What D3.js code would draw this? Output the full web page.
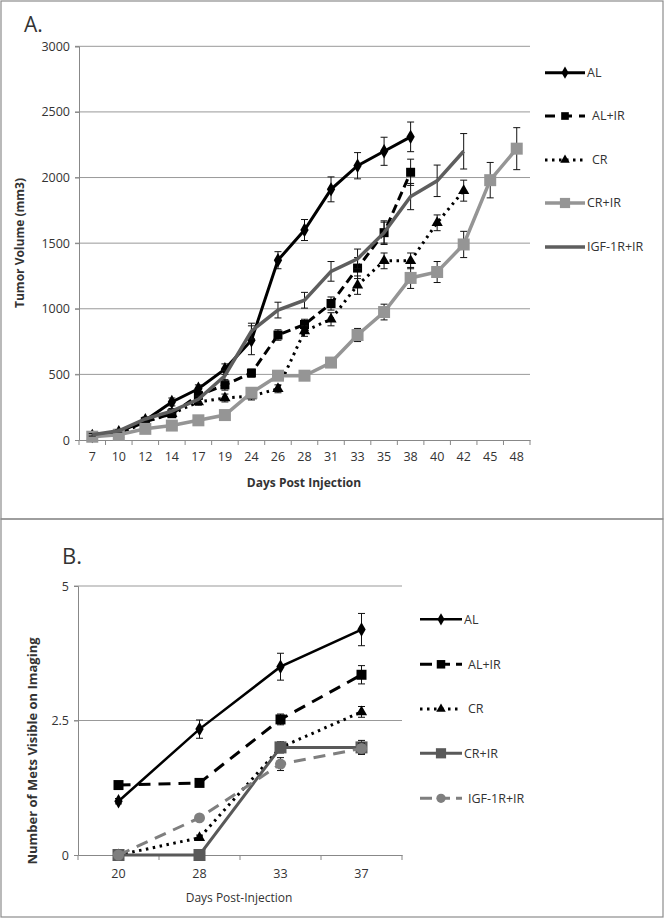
<!DOCTYPE html>
<html><head><meta charset="utf-8">
<script src="https://cdn.jsdelivr.net/npm/d3@7"></script>
<style>
html,body{margin:0;padding:0;background:#fff;}
svg text{font-family:"Open Sans","Liberation Sans",sans-serif;fill:#333;}
</style></head>
<body><svg id="c" width="665" height="919"></svg>
<script>
// ---------- Panel A data ----------
const daysA = [7,10,12,14,17,19,24,26,28,31,33,35,38,40,42,45,48];
const yTicksA = [0,500,1000,1500,2000,2500,3000];
const AL      = [30,60,150,290,390,540,760,1370,1600,1910,2090,2200,2310];
const AL_err  = [10,10,20,30,30,40,110,65,80,95,100,107,113];
const ALIR    = [30,50,140,200,340,420,510,800,880,1040,1310,1580,2040];
const ALIR_err= [10,10,20,25,30,40,30,40,40,50,80,90,100];
const CR      = [30,40,140,200,290,320,335,390,830,920,1180,1365,1365,1655,1900];
const CR_err  = [10,10,15,20,25,30,30,30,40,50,70,60,60,60,80];
const CRIR    = [25,40,85,110,150,190,360,490,490,590,800,975,1235,1280,1490,1980,2220];
const CRIR_err= [5,10,10,15,20,20,30,30,30,30,50,60,80,80,100,135,160];
const IGF     = [40,70,160,220,310,490,830,990,1065,1285,1380,1580,1855,1975,2200];
const IGF_err = [10,10,15,20,25,40,60,60,60,75,75,80,100,120,135];
const namesA  = ["AL","AL+IR","CR","CR+IR","IGF-1R+IR"];

// ---------- Panel B data ----------
const daysB = [20,28,33,37];
const yTicksB = [0,2.5,5];
const B_AL      = [1.0,2.34,3.5,4.19];
const B_AL_err  = [0.05,0.17,0.25,0.3];
const B_ALIR    = [1.3,1.34,2.52,3.35];
const B_ALIR_err= [0.05,0.05,0.1,0.17];
const B_CR      = [0,0.32,2.0,2.66];
const B_CR_err  = [0,0.05,0.1,0.1];
const B_CRIR    = [0,0,2.0,2.0];
const B_CRIR_err= [0,0,0.1,0.13];
const B_IGF     = [0,0.69,1.69,1.98];
const B_IGF_err = [0,0.05,0.12,0.1];
const namesB  = ["AL","AL+IR","CR","CR+IR","IGF-1R+IR"];

const svg = d3.select("#c");
svg.append("rect").attr("width",665).attr("height",919).attr("fill","#fff");
// frames
svg.append("rect").attr("x",1).attr("y",1).attr("width",662).attr("height",518)
  .attr("fill","none").attr("stroke","#8c8c8c").attr("stroke-width",1.2);
svg.append("rect").attr("x",1).attr("y",519).attr("width",662).attr("height",398)
  .attr("fill","none").attr("stroke","#8c8c8c").attr("stroke-width",1.2);

function marker(g, type, x, y, color, size){
  if(type==="none") return;
  let sym;
  if(type==="diamond") sym = d3.symbol(d3.symbolDiamond, size*size*0.6);
  else if(type==="square") sym = d3.symbol(d3.symbolSquare, size*size);
  else if(type==="triangle") sym = d3.symbol(d3.symbolTriangle, size*size*0.45);
  else if(type==="circle") sym = d3.symbol(d3.symbolCircle, size*size*0.78);
  g.append("path").attr("d",sym()).attr("transform",`translate(${x},${y})`).attr("fill",color);
}

function drawPanel(cfg){
  const g = svg.append("g");
  const x = d3.scaleBand().domain(cfg.cats).range([cfg.x0,cfg.x1]);
  const y = d3.scaleLinear().domain([0,cfg.ymax]).range([cfg.y0,cfg.y1]);
  const cx = d => x(d)+x.bandwidth()/2;
  // gridlines
  g.selectAll(".grid").data(cfg.yticks.filter(t=>t>0)).join("line")
    .attr("x1",cfg.x0-4).attr("x2",cfg.x1).attr("y1",d=>y(d)).attr("y2",d=>y(d))
    .attr("stroke","#999").attr("stroke-width",1);
  // axes
  const ya = d3.axisLeft(y).tickValues(cfg.yticks).tickSize(4).tickFormat(cfg.yfmt);
  const yg = g.append("g").attr("transform",`translate(${cfg.x0},0)`).call(ya);
  yg.select(".domain").attr("stroke","#888");
  yg.selectAll(".tick line").attr("stroke","#888");
  yg.selectAll("text").attr("font-size",cfg.tfs).attr("fill","#333").attr("dx",-2);
  const xa = d3.axisBottom(x).tickSize(0).tickPadding(cfg.xpad);
  const xg = g.append("g").attr("transform",`translate(0,${cfg.y0})`).call(xa);
  xg.select(".domain").attr("stroke","#888");
  xg.selectAll("text").attr("font-size",cfg.tfs).attr("fill","#333");
  // boundary ticks
  g.selectAll(".bt").data(d3.range(cfg.cats.length+1)).join("line")
    .attr("x1",i=>cfg.x0+i*x.bandwidth()).attr("x2",i=>cfg.x0+i*x.bandwidth())
    .attr("y1",cfg.y0).attr("y2",cfg.y0+5).attr("stroke","#888");

  // series
  cfg.series.forEach(s=>{
    const pts = s.v.map((v,i)=>({x:cx(cfg.cats[i]),y:y(v),e:s.e[i],v:v}));
    // error bars
    pts.forEach(p=>{
      if(!p.e) return;
      const t=y(p.v+p.e), b=y(p.v-p.e);
      g.append("line").attr("x1",p.x).attr("x2",p.x).attr("y1",t).attr("y2",b).attr("stroke","#111").attr("stroke-width",1);
      [t,b].forEach(yy=>g.append("line").attr("x1",p.x-3.5).attr("x2",p.x+3.5).attr("y1",yy).attr("y2",yy).attr("stroke","#111").attr("stroke-width",1));
    });
    g.append("path").datum(pts)
      .attr("d",d3.line().x(d=>d.x).y(d=>d.y))
      .attr("fill","none").attr("stroke",s.color).attr("stroke-width",s.w)
      .attr("stroke-dasharray",s.dash||null).attr("stroke-linecap",s.cap||"butt");
    pts.forEach(p=>marker(g,s.m,p.x,p.y,s.color,s.ms));
  });
  // legend
  cfg.series.forEach((s,i)=>{
    const ly = cfg.ly[i];
    g.append("line").attr("x1",cfg.lx0).attr("x2",cfg.lx1).attr("y1",ly).attr("y2",ly)
      .attr("stroke",s.color).attr("stroke-width",s.w).attr("stroke-dasharray",s.ldash||s.dash||null)
      .attr("stroke-linecap",s.cap||"butt");
    marker(g,s.m,(cfg.lx0+cfg.lx1)/2,ly,s.color,s.ms*0.85);
    g.append("text").attr("x",cfg.lx1+2+(s.tgap||0)).attr("y",ly).attr("dy","0.35em")
      .attr("font-size",cfg.lfs).text(s.name);
  });
  return {x,y};
}

// Panel A
drawPanel({
  cats: daysA, x0:79, x1:530, y0:440, y1:46.3, ymax:3000, yticks:yTicksA, yfmt:d3.format("d"),
  tfs:12.5, xpad:12, lfs:12.5,
  lx0:545, lx1:585, ly:[72.7,116,160,203,247],
  series:[
    {name:namesA[0], v:AL,   e:AL_err,   color:"#000", w:3, m:"diamond", ms:10},
    {name:namesA[1], v:ALIR, e:ALIR_err, color:"#000", w:3, m:"square", ms:9, dash:"9,5", ldash:"10,7", tgap:5},
    {name:namesA[2], v:CR,   e:CR_err,   color:"#000", w:3, m:"triangle", ms:11, dash:"2.5,4.5", tgap:5},
    {name:namesA[3], v:CRIR, e:CRIR_err, color:"#959595", w:3.5, m:"square", ms:12},
    {name:namesA[4], v:IGF,  e:IGF_err,  color:"#5e5e5e", w:3.5, m:"none", ms:0}
  ]
});
// Panel A texts
svg.append("text").attr("x",24).attr("y",32).attr("font-size",21).text("A.");
svg.append("text").attr("transform","translate(24,243) rotate(-90)").attr("text-anchor","middle")
  .attr("font-size",12).attr("font-weight","bold").text("Tumor Volume (mm3)");
svg.append("text").attr("x",304).attr("y",487).attr("text-anchor","middle")
  .attr("font-size",12).attr("font-weight","bold").text("Days Post Injection");

// Panel B
drawPanel({
  cats: daysB, x0:78, x1:402, y0:855, y1:586, ymax:5, yticks:yTicksB, yfmt:d3.format("~g"),
  tfs:12.5, xpad:14, lfs:12.5,
  lx0:420, lx1:462, ly:[619.3,664.3,709,753.3,798.3],
  series:[
    {name:namesB[0], v:B_AL,   e:B_AL_err,   color:"#000", w:2.5, m:"diamond", ms:10},
    {name:namesB[1], v:B_ALIR, e:B_ALIR_err, color:"#000", w:3, m:"square", ms:10, dash:"12,8", ldash:"12,6", tgap:4},
    {name:namesB[2], v:B_CR,   e:B_CR_err,   color:"#000", w:3, m:"triangle", ms:11, dash:"2.5,4.5", tgap:4},
    {name:namesB[3], v:B_CRIR, e:B_CRIR_err, color:"#595959", w:3, m:"square", ms:12},
    {name:namesB[4], v:B_IGF,  e:B_IGF_err,  color:"#7f7f7f", w:3, m:"circle", ms:11, dash:"12,8", ldash:"12,6", tgap:4}
  ]
});
svg.append("text").attr("x",62).attr("y",564).attr("font-size",22).text("B.");
svg.append("text").attr("transform","translate(37,751) rotate(-90)").attr("text-anchor","middle")
  .attr("font-size",13).attr("font-weight","bold").text("Number of Mets Visible on Imaging");
svg.append("text").attr("x",239).attr("y",902).attr("text-anchor","middle")
  .attr("font-size",12).text("Days Post-Injection");
</script></body></html>
